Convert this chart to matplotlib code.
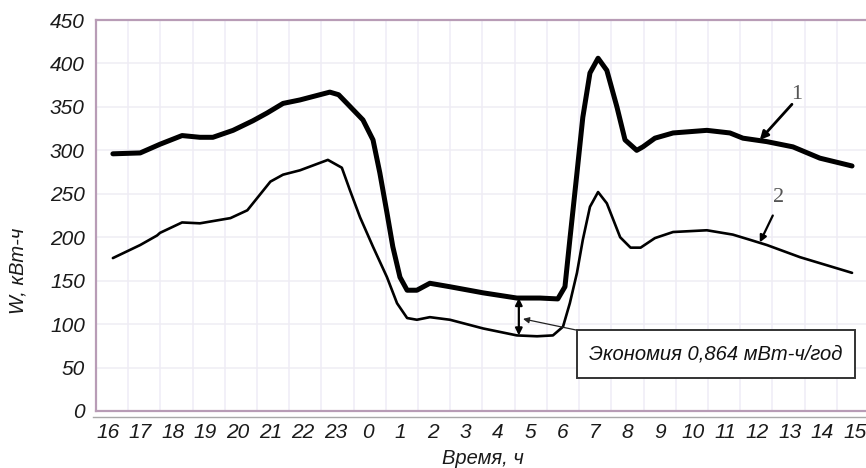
import matplotlib
matplotlib.use("Agg")
import matplotlib.pyplot as plt
from matplotlib.patches import Rectangle
import numpy as np

# Hourly axis: position 0 is 16:00, position 23 is 15:00 of the next day
hour_labels = ["16", "17", "18", "19", "20", "21", "22", "23", "0", "1", "2", "3",
               "4", "5", "6", "7", "8", "9", "10", "11", "12", "13", "14", "15"]

# Curve 1 – load before measures (position along hour axis, kWh)
t1 = [0.15, 0.99, 1.60, 2.28, 2.83, 3.23, 3.85, 4.46, 4.90, 5.39, 5.91, 6.83,
      7.10, 7.36, 7.85, 8.16, 8.37, 8.59, 8.77, 8.99, 9.21, 9.51, 9.91, 10.53,
      11.55, 12.59, 13.30, 13.85, 14.07, 14.22, 14.44, 14.62, 14.84, 15.09,
      15.36, 15.67, 15.92, 16.28, 16.47, 16.84, 17.40, 18.44, 19.15, 19.55,
      20.29, 21.09, 21.92, 22.91]
w1 = [296, 297, 307, 317, 315, 315, 323, 334, 343, 354, 358, 367,
      364, 354, 335, 312, 274, 228, 189, 154, 139, 139, 147, 143,
      136, 130, 130, 129, 143, 197, 274, 338, 389, 406,
      392, 350, 312, 300, 304, 314, 320, 323, 320, 314,
      310, 304, 291, 282]

# Curve 2 – load after measures
t2 = [0.15, 0.99, 1.51, 1.60, 2.28, 2.83, 3.77, 4.29, 5.00, 5.39, 5.91, 6.77,
      7.20, 7.45, 7.76, 8.16, 8.59, 8.90, 9.21, 9.51, 9.91, 10.53, 11.55,
      12.59, 13.21, 13.70, 14.01, 14.22, 14.44, 14.62, 14.84, 15.09, 15.36,
      15.77, 16.09, 16.40, 16.84, 17.40, 18.44, 19.24, 19.77, 20.29, 21.31,
      22.91]
w2 = [176, 191, 202, 205, 217, 216, 222, 231, 264, 272, 277, 289,
      280, 254, 223, 189, 154, 124, 107, 105, 108, 105, 95,
      87, 86, 87, 97, 124, 159, 197, 235, 252, 239,
      200, 188, 188, 199, 206, 208, 203, 197, 191, 177,
      159]

# Savings marker: hour position and the two load levels it spans
gap_t = 12.65
gap_top = 130
gap_bottom = 87
savings_text = "Экономия 0,864 мВт-ч/год"

W, H = 866, 468
fig = plt.figure(figsize=(W / 100, H / 100), dpi=100)
ax = fig.add_axes([96 / W, 1 - 411 / H, (W - 96) / W, (411 - 20) / H])

ax.set_xlim(-0.37, 23.34)
ax.set_ylim(0, 450)

spine_col = "#b89cb6"
for side in ("left", "top", "bottom"):
    ax.spines[side].set_color(spine_col)
    ax.spines[side].set_linewidth(1.6)
ax.spines["right"].set_visible(False)

# light grid
for gx in np.linspace(0.62, 22.44, 23):
    ax.axvline(gx, color="#efecf7", lw=1.1, zorder=0)
for gy in range(50, 450, 50):
    ax.axhline(gy, color="#efedf4", lw=1.1, zorder=0)

# grey baseline just below the frame
ax.plot([-0.47, 23.4], [-7, -7], color="#a8a8a8", lw=1.0, clip_on=False)

tick_font = dict(family="Liberation Sans", style="italic", size=15)
ax.set_xticks(range(24))
ax.set_xticklabels(hour_labels, **tick_font, color="#1a1a1a")
ax.set_yticks(range(0, 451, 50))
ax.set_yticklabels([str(v) for v in range(0, 451, 50)], **tick_font, color="#1a1a1a")
ax.tick_params(axis="both", length=0)
ax.tick_params(axis="x", pad=9)
ax.tick_params(axis="y", pad=8)

ax.plot(t1, w1, color="black", lw=3.6, solid_joinstyle="round",
        solid_capstyle="round", zorder=3)
ax.plot(t2, w2, color="black", lw=1.9, solid_joinstyle="round",
        solid_capstyle="round", zorder=3)

# double arrow showing the savings
ax.annotate("", xy=(gap_t, gap_top), xytext=(gap_t, gap_bottom),
            arrowprops=dict(arrowstyle="<|-|>", color="black", lw=1.6,
                            mutation_scale=10, shrinkA=0, shrinkB=0), zorder=4)

# callout box
ax.add_patch(Rectangle((14.44, 38), 23.0 - 14.44, 93 - 38, facecolor="white",
                       edgecolor="#333333", lw=1.4, zorder=5))
ax.text((14.44 + 23.0) / 2, (38 + 93) / 2, savings_text, ha="center", va="center",
        family="Liberation Sans", style="italic", size=14.5, color="#111111", zorder=6)
ax.annotate("", xy=(12.78, 106), xytext=(14.44, 93),
            arrowprops=dict(arrowstyle="-|>", color="#222222", lw=0.9,
                            mutation_scale=9, shrinkA=0, shrinkB=0), zorder=4)

# curve numbers
serif = dict(family="Liberation Serif", size=16, color="#555555")
ax.text(21.2, 364, "1", ha="center", va="center", **serif)
ax.annotate("", xy=(20.07, 312), xytext=(21.06, 353),
            arrowprops=dict(arrowstyle="-|>", color="black", lw=2.0,
                            mutation_scale=12, shrinkA=0, shrinkB=0), zorder=4)
ax.text(20.66, 246, "2", ha="center", va="center", **serif)
ax.annotate("", xy=(20.07, 194), xytext=(20.47, 225),
            arrowprops=dict(arrowstyle="-|>", color="black", lw=1.6,
                            mutation_scale=10, shrinkA=0, shrinkB=0), zorder=4)

label_font = dict(family="Liberation Sans", style="italic", size=14.5, color="#1a1a1a")
fig.text(483 / W, 1 - 464 / H, "Время, ч", ha="center", va="baseline", **label_font)
fig.text(18 / W, 1 - 271 / H, "W, кВт-ч", ha="center", va="center",
         rotation=90, **label_font)

fig.savefig("out.png", dpi=100)
